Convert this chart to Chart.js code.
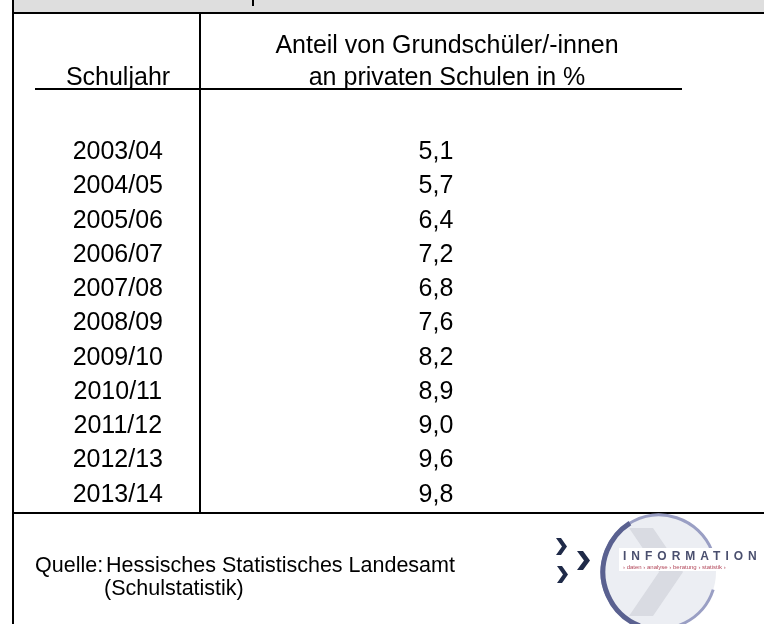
<!DOCTYPE html>
<html lang="de">
<head>
    <meta charset="UTF-8">
    <title>Anteil von Grundschüler/-innen an privaten Schulen</title>
    <script src="https://cdnjs.cloudflare.com/ajax/libs/Chart.js/4.4.1/chart.umd.min.js"></script>
    <style>
        body {
            margin: 0;
            background: #ffffff;
        }
        #wrap {
            width: 764px;
            height: 624px;
        }
    </style>
</head>
<body>
    <div id="wrap">
        <canvas id="tableChart" width="764" height="624"></canvas>
    </div>

    <script>
        // Data of the table
        const schuljahre = ["2003/04", "2004/05", "2005/06", "2006/07", "2007/08", "2008/09",
                            "2009/10", "2010/11", "2011/12", "2012/13", "2013/14"];
        const anteilPrivat = [5.1, 5.7, 6.4, 7.2, 6.8, 7.6, 8.2, 8.9, 9.0, 9.6, 9.8];
        const kopfZeile1 = "Anteil von Grundschüler/-innen";
        const kopfZeile2 = "an privaten Schulen in %";
        const kopfJahr = "Schuljahr";
        const quelleZeilen = ["Quelle:", "Hessisches Statistisches Landesamt", "(Schulstatistik)"];

        const FONT = "'Liberation Sans', Arial, sans-serif";

        // number in german format
        function deZahl(v) {
            return v.toFixed(1).replace(".", ",");
        }

        // frame, header, values, source and logo
        const tablePlugin = {
            id: "tablePlugin",
            beforeDraw(chart) {
                const ctx = chart.ctx;
                ctx.save();
                ctx.fillStyle = "#ffffff";
                ctx.fillRect(0, 0, chart.width, chart.height);
                // grey title band
                ctx.fillStyle = "#dedede";
                ctx.fillRect(13, 0, chart.width - 13, 12);
                ctx.restore();
            },
            afterDraw(chart) {
                const ctx = chart.ctx;
                const yScale = chart.scales.y;
                ctx.save();

                // lines
                ctx.fillStyle = "#000000";
                ctx.fillRect(12, 0, 2, chart.height);          // left border
                ctx.fillRect(12, 12, chart.width - 12, 2);     // under band
                ctx.fillRect(252, 0, 2, 6);                    // cut off title glyph
                ctx.fillRect(199, 14, 2, 498);                 // column divider
                ctx.fillRect(35, 88, 647, 2);                  // header rule
                ctx.fillRect(12, 512, chart.width - 12, 2);    // bottom of table

                // header
                ctx.font = "25px " + FONT;
                ctx.textAlign = "center";
                ctx.textBaseline = "middle";
                ctx.fillText(kopfZeile1, 447, 46);
                ctx.fillText(kopfZeile2, 447, 78);
                ctx.fillText(kopfJahr, 118, 78);

                // values
                anteilPrivat.forEach((v, i) => {
                    ctx.fillText(deZahl(v), 436, yScale.getPixelForValue(i));
                });

                // source
                ctx.font = "21.5px " + FONT;
                ctx.textAlign = "left";
                ctx.fillText(quelleZeilen[0], 35, 566);
                ctx.fillText(quelleZeilen[1], 106, 566);
                ctx.fillText(quelleZeilen[2], 104, 589);

                drawLogo(ctx);
                ctx.restore();
            }
        };

        function chevron(ctx, x, y, w, h, t) {
            ctx.beginPath();
            ctx.moveTo(x, y);
            ctx.lineTo(x + t, y);
            ctx.lineTo(x + w, y + h / 2);
            ctx.lineTo(x + t, y + h);
            ctx.lineTo(x, y + h);
            ctx.lineTo(x + w - t, y + h / 2);
            ctx.closePath();
            ctx.fill();
        }

        function drawLogo(ctx) {
            const cx = 659, cy = 572, r = 57;
            // pale disc
            ctx.fillStyle = "#eceef3";
            ctx.beginPath();
            ctx.arc(cx, cy, r, 0, Math.PI * 2);
            ctx.fill();
            // big faded chevron
            ctx.fillStyle = "#d9dbe2";
            chevron(ctx, cx - 30, cy - 44, 54, 88, 24);
            // ring
            ctx.strokeStyle = "#9a9fc4";
            ctx.lineWidth = 3;
            ctx.beginPath();
            ctx.arc(cx, cy, r, Math.PI * 0.1, Math.PI * 1.88);
            ctx.stroke();
            ctx.strokeStyle = "#5a6190";
            ctx.lineWidth = 5;
            ctx.beginPath();
            ctx.arc(cx + 2, cy, r + 1, Math.PI * 0.62, Math.PI * 1.32);
            ctx.stroke();
            // dark chevrons
            ctx.fillStyle = "#1f2a48";
            chevron(ctx, 556, 538, 11, 17, 5);
            chevron(ctx, 577, 551, 13, 19, 6);
            chevron(ctx, 557, 566, 11, 17, 5);
            // lettering
            ctx.fillStyle = "#ffffff";
            ctx.fillRect(619, 548, 145, 23);
            ctx.fillStyle = "#4a4f6e";
            ctx.font = "bold 12px " + FONT;
            ctx.textAlign = "left";
            ctx.textBaseline = "middle";
            if ("letterSpacing" in ctx) ctx.letterSpacing = "5px";
            ctx.fillText("INFORMATION", 623, 557);
            if ("letterSpacing" in ctx) ctx.letterSpacing = "0px";
            ctx.fillStyle = "#b2475a";
            ctx.font = "6px " + FONT;
            ctx.fillText("› daten › analyse › beratung › statistik ›", 623, 567);
        }

        const ctx = document.getElementById("tableChart").getContext("2d");
        const tableChart = new Chart(ctx, {
            type: "bar",
            data: {
                labels: schuljahre,
                datasets: [{
                    label: "Anteil in %",
                    data: anteilPrivat,
                    backgroundColor: "rgba(0, 0, 0, 0)",
                    borderWidth: 0
                }]
            },
            options: {
                indexAxis: "y",
                responsive: false,
                animation: false,
                devicePixelRatio: 1,
                layout: {
                    padding: { left: 12, top: 135, right: 60, bottom: 112 }
                },
                plugins: {
                    legend: { display: false },
                    tooltip: { enabled: false }
                },
                scales: {
                    x: { display: false, min: 0, max: 10 },
                    y: {
                        position: "left",
                        grid: { display: false, drawTicks: false },
                        border: { display: false },
                        afterFit: (scale) => { scale.width = 188; },
                        ticks: {
                            color: "#000000",
                            font: { size: 25, family: FONT },
                            crossAlign: "center",
                            padding: 37
                        }
                    }
                }
            },
            plugins: [tablePlugin]
        });
    </script>
</body>
</html>
